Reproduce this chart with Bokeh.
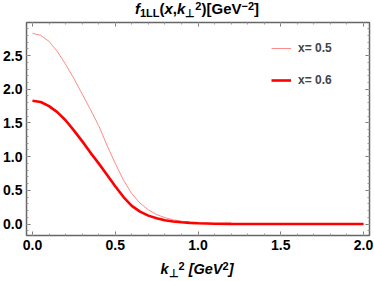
from bokeh.plotting import figure
from bokeh.models import (Div, LinearAxis, Range1d, Legend, LegendItem,
                          SingleIntervalTicker, PrintfTickFormatter,
                          CustomJSTickFormatter)
from bokeh.layouts import column
from bokeh.embed import file_html
from bokeh.resources import INLINE

# ---- data ----
k2 = [0.0, 0.05, 0.1, 0.15, 0.2, 0.25, 0.3, 0.35, 0.4, 0.45, 0.5, 0.55, 0.6,
      0.65, 0.7, 0.75, 0.8, 0.85, 0.9, 0.95, 1.0, 1.1, 1.2, 1.4, 1.6, 2.0]
f_x05 = [2.83, 2.80, 2.71, 2.56, 2.37, 2.16, 1.93, 1.70, 1.46, 1.17, 0.90, 0.65,
         0.45, 0.31, 0.21, 0.14, 0.095, 0.063, 0.042, 0.028, 0.018, 0.008, 0.004,
         0.001, 0.0, 0.0]
f_x06 = [1.83, 1.81, 1.75, 1.66, 1.54, 1.39, 1.23, 1.06, 0.90, 0.73, 0.56, 0.40,
         0.27, 0.185, 0.125, 0.085, 0.057, 0.038, 0.026, 0.017, 0.011, 0.005, 0.002,
         0.0, 0.0, 0.0]
series_labels = ["x= 0.5", "x= 0.6"]

FONT = "Liberation Sans"
LEFT = 25
RIGHT = 5
W = 374

p = figure(width=W, height=238, output_backend="svg", toolbar_location=None,
           x_range=Range1d(-0.036, 2.036), y_range=Range1d(-0.17, 2.99),
           min_border_left=LEFT, min_border_right=RIGHT, min_border_top=2,
           min_border_bottom=23, x_axis_type=None, y_axis_type=None)
p.grid.visible = False
p.outline_line_color = "#444444"
p.outline_line_width = 1
p.background_fill_color = "white"
p.border_fill_color = "white"

def make_axis(show_labels):
    ax = LinearAxis(ticker=SingleIntervalTicker(interval=0.5, num_minor_ticks=5))
    ax.axis_line_color = "#666666"
    ax.axis_line_width = 1.5
    ax.major_tick_in = 4
    ax.major_tick_out = 0
    ax.minor_tick_in = 2
    ax.minor_tick_out = 0
    ax.major_tick_line_color = "#777777"
    ax.minor_tick_line_color = "#999999"
    if show_labels:
        ax.formatter = PrintfTickFormatter(format="%.1f")
        ax.major_label_text_font = FONT
        ax.major_label_text_font_style = "bold"
        ax.major_label_text_font_size = "14px"
        ax.major_label_text_color = "black"
        ax.major_label_standoff = 4
    else:
        ax.formatter = CustomJSTickFormatter(code="return ''")
        ax.major_label_standoff = 0
    return ax

p.add_layout(make_axis(True), "left")
p.add_layout(make_axis(True), "below")
p.add_layout(make_axis(False), "above")
p.add_layout(make_axis(False), "right")

r1 = p.line(k2, f_x05, line_color="#ff8a8a", line_width=1)
r2 = p.line(k2, f_x06, line_color="#ff0000", line_width=2.6)

legend = Legend(items=[LegendItem(label=series_labels[0], renderers=[r1]),
                       LegendItem(label=series_labels[1], renderers=[r2])],
                location=(241, 141))
legend.background_fill_alpha = 0
legend.border_line_alpha = 0
legend.label_text_font = FONT
legend.label_text_font_style = "bold"
legend.label_text_font_size = "12px"
legend.glyph_width = 20
legend.glyph_height = 20
legend.label_height = 20
legend.spacing = 12
legend.padding = 4
legend.label_standoff = 7
p.add_layout(legend, "center")

sub = "font-size:11px;line-height:0;vertical-align:-3px;"
sup = "font-size:11px;line-height:0;vertical-align:4px;"
title_html = (f"<i>f</i><span style='{sub}'>1LL</span>(<i>x</i>,<i>k</i>"
              f"<span style='{sub}'>⊥</span><span style='{sup}'>2</span>)"
              f"[GeV<span style='{sup}'>−2</span>]")
xlabel_html = (f"<i>k</i><span style='{sub}'>⊥</span><span style='{sup}'>2</span>"
               f" <i>[GeV</i><span style='{sup}'>2</span><i>]</i>")

common = {"font-family": FONT, "font-weight": "bold",
          "text-align": "center", "color": "black", "line-height": "14px",
          "white-space": "nowrap", "overflow": "visible"}
fw = W - LEFT - RIGHT
title = Div(text=title_html, width=fw, height=20, margin=(0, RIGHT, 0, LEFT),
            styles=dict(common, **{"height": "20px", "padding-top": "2px",
                                   "font-size": "15px", "box-sizing": "border-box"}))
xlabel = Div(text=xlabel_html, width=fw, height=23, margin=(0, RIGHT, 0, LEFT),
             styles=dict(common, **{"height": "23px", "padding-top": "4px",
                                    "font-size": "14.5px", "box-sizing": "border-box"}))

layout = column(title, p, xlabel, spacing=0)
open("out.html", "w").write(file_html(layout, INLINE))
